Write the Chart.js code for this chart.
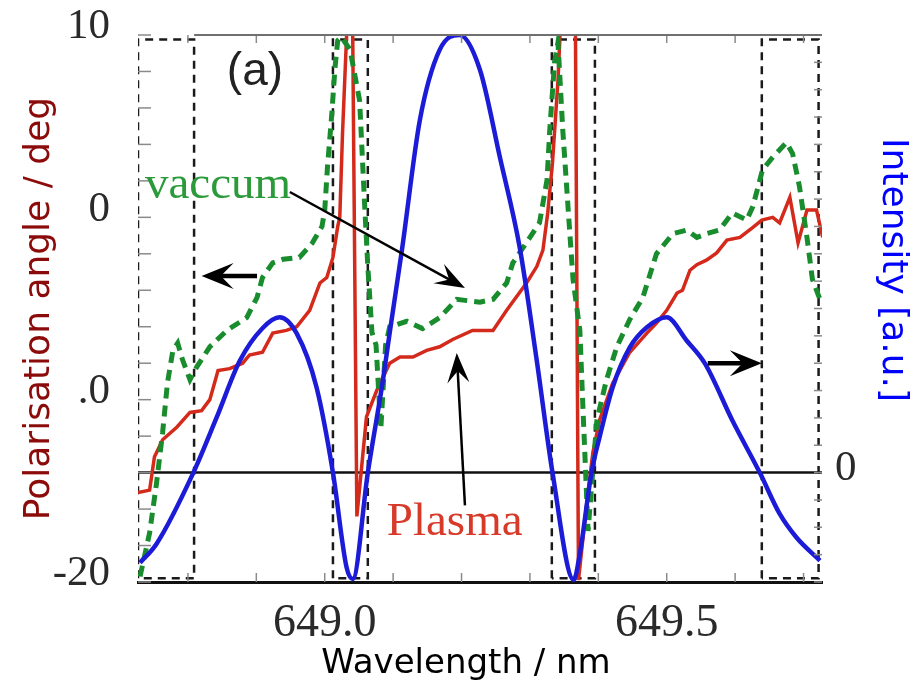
<!DOCTYPE html>
<html>
<head>
<meta charset="utf-8">
<title>Polarisation angle vs wavelength</title>
<script src="https://cdn.jsdelivr.net/npm/chart.js@4.4.1/dist/chart.umd.min.js"></script>
<style>
  html, body { margin: 0; padding: 0; background: #fff; }
</style>
</head>
<body>
<canvas id="polChart" width="920" height="689"></canvas>
<script>
// wavelength range shown (nm)
const xMin = 648.727;
const xMax = 649.727;
const xTickValues = [648.8, 648.9, 649.0, 649.1, 649.2, 649.3, 649.4, 649.5, 649.6, 649.7];
const xTickLabels = ['649.0', '649.5'];

// left axis: polarisation angle (deg)
const yLabelValues = [-20, -10, 0, 10];
const yLabelTexts = ['-20', '.0', '0', '10'];

// right axis: intensity (a.u.), only the zero is labelled
const y2LabelValues = [0];
const y2LabelTexts = ['0'];

// plasma polarisation angle (red)
const plasmaX = [648.727, 648.744, 648.751, 648.763, 648.784, 648.803, 648.820, 648.832, 648.844, 648.861,
  648.880, 648.890, 648.909, 648.924, 648.944, 648.959, 648.978, 648.993, 649.003, 649.012,
  649.019, 649.022, 649.026, 649.032, 649.036, 649.040, 649.047, 649.061, 649.076, 649.095,
  649.110, 649.129, 649.149, 649.168, 649.187, 649.216, 649.246, 649.266, 649.295, 649.310,
  649.319, 649.326, 649.333, 649.341, 649.344, 649.349, 649.366, 649.371, 649.383, 649.392,
  649.402, 649.421, 649.446, 649.471, 649.485, 649.500, 649.515, 649.523, 649.534, 649.544,
  649.558, 649.573, 649.588, 649.607, 649.626, 649.639, 649.655, 649.665, 649.680, 649.692,
  649.705, 649.719, 649.728];
const plasmaY = [-15.1, -14.96, -13.15, -12.2, -11.5, -10.7, -10.6, -10.0, -8.4, -8.3,
  -8.0, -7.55, -7.4, -6.35, -6.2, -6.0, -5.1, -3.6, -3.3, -2.2,
  -0.5, 0.0, 4.6, 10, 14, 14, -16.4, -10.95, -9.5, -8.0,
  -7.66, -7.66, -7.3, -7.1, -6.7, -6.2, -6.2, -5.1, -3.6, -2.7,
  -1.8, 0.24, 3.0, 7.5, 10, 14, 14, -19.9, -15.7, -12.9,
  -11.1, -9.1, -7.4, -6.35, -5.8, -5.1, -4.15, -4.0, -2.9, -2.6,
  -2.35, -1.95, -1.25, -1.1, -0.55, -0.15, 0.0, -0.3, 1.1, -1.4,
  0.4, 0.4, -1.1];

// vacuum polarisation angle (green dashed)
const vacuumX = [648.730, 648.744, 648.754, 648.763, 648.770, 648.778, 648.785, 648.792, 648.803, 648.813,
  648.832, 648.857, 648.886, 648.901, 648.909, 648.924, 648.939, 648.963, 648.982, 648.996,
  649.000, 649.004, 649.010, 649.015, 649.019, 649.024, 649.037, 649.051, 649.058, 649.063,
  649.069, 649.075, 649.082, 649.089, 649.095, 649.120, 649.143, 649.168, 649.193, 649.227,
  649.246, 649.266, 649.275, 649.300, 649.314, 649.325, 649.329, 649.336, 649.341, 649.348,
  649.358, 649.363, 649.373, 649.377, 649.385, 649.390, 649.398, 649.412, 649.427, 649.446,
  649.465, 649.485, 649.509, 649.529, 649.544, 649.558, 649.577, 649.596, 649.617, 649.626,
  649.640, 649.655, 649.675, 649.684, 649.694, 649.705, 649.713, 649.724];
const vacuumY = [-19.7, -17.3, -14.6, -11.8, -9.1, -7.3, -6.9, -7.8, -8.9, -8.2,
  -7.1, -6.2, -5.5, -4.4, -3.3, -2.5, -2.3, -2.2, -1.4, -0.5,
  0.4, 2.75, 5.5, 8.2, 9.7, 9.9, 9.2, 6.4, 0.95, -2.7,
  -6.3, -7.0, -11.6, -7.0, -6.0, -5.7, -6.1, -5.5, -4.5, -4.65,
  -4.5, -3.6, -2.5, -1.1, -0.3, 2.05, 4.8, 8.5, 9.6, 4.8,
  -0.7, -3.4, -6.2, -10.0, -17.2, -14.8, -11.1, -8.9, -7.1, -5.6,
  -4.4, -2.0, -0.9, -0.7, -1.1, -0.9, -0.7, 0.24, -0.15, 0.6,
  2.6, 3.3, 4.1, 3.5, 1.7, -1.1, -3.4, -4.5];

// intensity (blue, right axis)
const intensityX = [648.730, 648.754, 648.808, 648.842, 648.876, 648.909, 648.934, 648.959, 648.988, 649.012,
  649.032, 649.041, 649.063, 649.085, 649.095, 649.113, 649.139, 649.168, 649.197, 649.227,
  649.256, 649.285, 649.310, 649.333, 649.364, 649.373, 649.390, 649.402, 649.421, 649.446,
  649.471, 649.500, 649.529, 649.556, 649.596, 649.636, 649.665, 649.690, 649.724];
const intensityY = [-0.206, -0.163, 0.0, 0.126, 0.256, 0.330, 0.355, 0.318, 0.195, 0.0,
  -0.217, -0.243, 0.0, 0.21, 0.32, 0.51, 0.805, 0.966, 1.0, 0.92,
  0.721, 0.515, 0.256, 0.0, -0.245, -0.185, 0.0, 0.082, 0.195, 0.286,
  0.332, 0.355, 0.302, 0.249, 0.119, 0.0, -0.094, -0.149, -0.201];

// dashed integration windows [from, to] in nm, spanning the angle axis
const regionBounds = [[648.727, 648.809], [649.012, 649.063], [649.332, 649.395], [649.639, 649.722]];
const regionTop = 9.75;
const regionBottom = -19.8;

// annotation arrows [x1, y1, x2, y2] in nm / deg
const sideArrows = [[648.901, -3.22, 648.820, -3.22], [649.560, -8.0, 649.639, -8.0]];
const pointerArrows = [[648.949, 1.39, 649.205, -3.88], [649.205, -15.8, 649.193, -7.44]];

const toPoints = (xs, ys) => xs.map((x, i) => ({ x: x, y: ys[i] }));

const regionSets = regionBounds.map(b => ({
  data: [
    { x: b[0], y: regionBottom }, { x: b[0], y: regionTop },
    { x: b[1], y: regionTop }, { x: b[1], y: regionBottom },
    { x: b[0], y: regionBottom }
  ],
  yAxisID: 'y',
  showLine: true,
  borderColor: '#1a1a1a',
  borderWidth: 2.5,
  borderDash: [8, 6],
  pointRadius: 0,
  order: 4
}));

function drawArrow(ctx, x1, y1, x2, y2, width, head, half) {
  const ang = Math.atan2(y2 - y1, x2 - x1);
  const c = Math.cos(ang), s = Math.sin(ang);
  ctx.lineWidth = width;
  ctx.beginPath();
  ctx.moveTo(x1, y1);
  ctx.lineTo(x2 - head * 0.5 * c, y2 - head * 0.5 * s);
  ctx.stroke();
  ctx.beginPath();
  ctx.moveTo(x2, y2);
  ctx.lineTo(x2 - head * c + half * s, y2 - head * s - half * c);
  ctx.lineTo(x2 - head * 0.6 * c, y2 - head * 0.6 * s);
  ctx.lineTo(x2 - head * c - half * s, y2 - head * s + half * c);
  ctx.closePath();
  ctx.fill();
}

// inner tick marks, top frame line, arrows, labels and axis titles
const decorPlugin = {
  id: 'decor',
  afterDatasetsDraw(chart) {
    const { ctx, chartArea: a, scales } = chart;
    const sx = scales.x, sy = scales.y, sy2 = scales.y2;
    ctx.save();

    ctx.strokeStyle = '#8a8a8a';
    ctx.lineWidth = 1.5;
    const seg = (x1, y1, x2, y2) => { ctx.beginPath(); ctx.moveTo(x1, y1); ctx.lineTo(x2, y2); ctx.stroke(); };
    sx.ticks.forEach(t => {
      const px = sx.getPixelForValue(t.value);
      seg(px, a.bottom, px, a.bottom - 9);
      seg(px, a.top, px, a.top + 8);
    });
    sy.ticks.forEach(t => {
      const py = sy.getPixelForValue(t.value);
      seg(a.left, py, a.left + 13, py);
    });
    sy2.ticks.forEach(t => {
      const py = sy2.getPixelForValue(t.value);
      seg(a.right, py, a.right - 8, py);
    });

    // top frame line
    ctx.strokeStyle = '#707070';
    ctx.lineWidth = 2;
    seg(sx.getPixelForValue(regionBounds[0][1]), a.top, a.right, a.top);

    // arrows
    ctx.strokeStyle = '#000';
    ctx.fillStyle = '#000';
    sideArrows.forEach(r => drawArrow(ctx, sx.getPixelForValue(r[0]), sy.getPixelForValue(r[1]),
      sx.getPixelForValue(r[2]), sy.getPixelForValue(r[3]), 4.5, 32, 13));
    pointerArrows.forEach(r => drawArrow(ctx, sx.getPixelForValue(r[0]), sy.getPixelForValue(r[1]),
      sx.getPixelForValue(r[2]), sy.getPixelForValue(r[3]), 2.5, 30, 11));

    // in-plot labels
    ctx.textAlign = 'center';
    ctx.textBaseline = 'alphabetic';
    ctx.font = '46px "Liberation Sans", Arial, sans-serif';
    ctx.fillStyle = '#222';
    ctx.fillText('(a)', sx.getPixelForValue(648.898), sy.getPixelForValue(7.25));
    ctx.font = '47px "Liberation Serif", "Times New Roman", serif';
    ctx.fillStyle = '#2a9a3a';
    ctx.fillText('vaccum', sx.getPixelForValue(648.844), sy.getPixelForValue(1.06));
    ctx.fillStyle = '#d83a2a';
    ctx.fillText('Plasma', sx.getPixelForValue(649.190), sy.getPixelForValue(-17.43));

    // axis titles
    ctx.textBaseline = 'middle';
    ctx.font = '36px "DejaVu Sans", sans-serif';
    ctx.fillStyle = '#8b0a0a';
    ctx.save();
    ctx.translate(40, (a.top + a.bottom) / 2);
    ctx.rotate(-Math.PI / 2);
    ctx.fillText('Polarisation angle / deg', 0, 0);
    ctx.restore();

    ctx.fillStyle = '#0000ff';
    ctx.save();
    ctx.translate(892, 270);
    ctx.rotate(Math.PI / 2);
    ctx.fillText('Intensity [a.u.]', 0, 0);
    ctx.restore();

    ctx.fillStyle = '#000';
    ctx.font = '34px "DejaVu Sans", sans-serif';
    ctx.textBaseline = 'alphabetic';
    ctx.fillText('Wavelength / nm', 466, 673);

    ctx.restore();
  }
};

// keep the plot box fixed: no extra room reserved for half-height edge labels
const fixVertical = w => s => { s.width = w; s.paddingTop = 0; s.paddingBottom = 0; };

const ctx = document.getElementById('polChart').getContext('2d');
const polChart = new Chart(ctx, {
  type: 'scatter',
  data: {
    datasets: [
      {
        label: 'Intensity',
        data: toPoints(intensityX, intensityY),
        yAxisID: 'y2',
        showLine: true,
        borderColor: '#1c1cd8',
        borderWidth: 4.5,
        pointRadius: 0,
        cubicInterpolationMode: 'monotone',
        order: 0
      },
      {
        label: 'vaccum',
        data: toPoints(vacuumX, vacuumY),
        yAxisID: 'y',
        showLine: true,
        borderColor: '#198c2e',
        borderWidth: 5,
        borderDash: [11, 7],
        pointRadius: 0,
        order: 1
      },
      {
        label: 'Plasma',
        data: toPoints(plasmaX, plasmaY),
        yAxisID: 'y',
        showLine: true,
        borderColor: '#d42a1c',
        borderWidth: 3.5,
        pointRadius: 0,
        order: 2
      },
      {
        label: 'zero',
        data: [{ x: xMin, y: 0 }, { x: xMax, y: 0 }],
        yAxisID: 'y2',
        showLine: true,
        borderColor: '#111',
        borderWidth: 2.5,
        pointRadius: 0,
        order: 5
      },
      ...regionSets
    ]
  },
  options: {
    responsive: false,
    animation: false,
    layout: { padding: { top: 35, left: 0, right: 0, bottom: 0 } },
    plugins: {
      legend: { display: false },
      tooltip: { enabled: false }
    },
    scales: {
      x: {
        type: 'linear',
        position: 'bottom',
        min: xMin,
        max: xMax,
        afterBuildTicks: s => { s.ticks = xTickValues.map(v => ({ value: v })); },
        afterFit: s => { s.height = 107; s.paddingLeft = 0; s.paddingRight = 0; },
        grid: { display: false, drawTicks: false },
        border: { display: true, color: '#111', width: 3 },
        ticks: {
          autoSkip: false,
          maxRotation: 0,
          minRotation: 0,
          padding: 14,
          color: '#2a2a2a',
          font: { family: '"Liberation Serif", serif', size: 46 },
          callback: v => { const s = v.toFixed(1); return xTickLabels.includes(s) ? s : ''; }
        }
      },
      y: {
        type: 'linear',
        position: 'left',
        min: -20,
        max: 10,
        afterFit: fixVertical(138),
        grid: { display: false, drawTicks: false },
        border: { display: false },
        ticks: {
          stepSize: 2,
          autoSkip: false,
          padding: 28,
          labelOffset: -8,
          color: '#2a2a2a',
          font: { family: '"Liberation Serif", serif', size: 43 },
          callback: v => { const i = yLabelValues.indexOf(v); return i >= 0 ? yLabelTexts[i] : ''; }
        }
      },
      y2: {
        type: 'linear',
        position: 'right',
        min: -0.25,
        max: 1.0,
        afterFit: fixVertical(98),
        grid: { display: false, drawTicks: false },
        border: { display: false },
        ticks: {
          stepSize: 0.0625,
          autoSkip: false,
          padding: 13,
          labelOffset: -4,
          color: '#2a2a2a',
          font: { family: '"Liberation Serif", serif', size: 43 },
          callback: v => { const i = y2LabelValues.indexOf(v); return i >= 0 ? y2LabelTexts[i] : ''; }
        }
      }
    }
  },
  plugins: [decorPlugin]
});
</script>
</body>
</html>
